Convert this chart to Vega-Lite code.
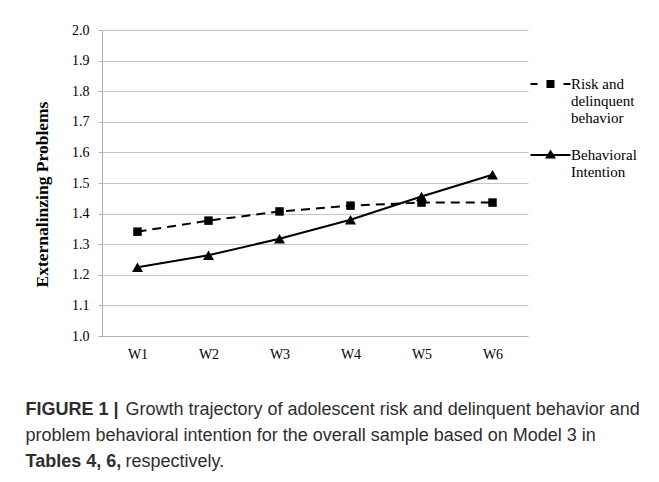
{
  "$schema": "https://vega.github.io/schema/vega-lite/v6.json",
  "width": 426,
  "height": 306,
  "autosize": {"type": "none"},
  "padding": {"left": 102, "top": 30, "right": 131, "bottom": 146},
  "background": "white",
  "config": {
    "view": {"stroke": null},
    "axisY": {
      "grid": true,
      "gridColor": "#c6c6c6",
      "gridWidth": 1,
      "domainColor": "#b0b0b0",
      "tickColor": "#b0b0b0",
      "tickSize": 4,
      "labelPadding": 9,
      "labelFont": "Liberation Serif",
      "labelFontSize": 14,
      "labelColor": "#000000",
      "labelOverlap": false,
      "values": [1, 1.1, 1.2, 1.3, 1.4, 1.5, 1.6, 1.7, 1.8, 1.9, 2],
      "format": ".1f",
      "titleFont": "Liberation Serif",
      "titleFontWeight": "bold",
      "titleFontSize": 17.5,
      "titleColor": "#000000",
      "titleAngle": 270,
      "titleAlign": "center",
      "titleBaseline": "alphabetic",
      "titleX": -55,
      "titleY": 164
    },
    "legend": {
      "orient": "none",
      "title": null,
      "padding": 0,
      "symbolSize": 100,
      "symbolFillColor": "#000000",
      "symbolStrokeWidth": 0,
      "labelFont": "Liberation Serif",
      "labelFontSize": 15,
      "labelColor": "#000000",
      "labelOffset": 13,
      "labelBaseline": "alphabetic",
      "labelLimit": 300
    }
  },
  "data": {
    "values": [
      {"wave": "W1", "s": "Risk and delinquent behavior", "v": 1.341},
      {"wave": "W2", "s": "Risk and delinquent behavior", "v": 1.377},
      {"wave": "W3", "s": "Risk and delinquent behavior", "v": 1.407},
      {"wave": "W4", "s": "Risk and delinquent behavior", "v": 1.426},
      {"wave": "W5", "s": "Risk and delinquent behavior", "v": 1.436},
      {"wave": "W6", "s": "Risk and delinquent behavior", "v": 1.436},
      {"wave": "W1", "s": "Behavioral Intention", "v": 1.225},
      {"wave": "W2", "s": "Behavioral Intention", "v": 1.264},
      {"wave": "W3", "s": "Behavioral Intention", "v": 1.318},
      {"wave": "W4", "s": "Behavioral Intention", "v": 1.380},
      {"wave": "W5", "s": "Behavioral Intention", "v": 1.456},
      {"wave": "W6", "s": "Behavioral Intention", "v": 1.527}
    ]
  },
  "resolve": {
    "axis": {"x": "independent"},
    "scale": {"opacity": "independent"},
    "legend": {"opacity": "independent"}
  },
  "layer": [
    {
      "transform": [{"filter": "datum.s === 'Risk and delinquent behavior'"}],
      "mark": {"type": "line", "color": "#000000"},
      "encoding": {
        "x": {
          "field": "wave",
          "type": "ordinal",
          "axis": {
            "orient": "bottom",
            "labelAngle": 0,
            "ticks": false,
            "grid": false,
            "domainColor": "#b0b0b0",
            "labelFont": "Liberation Serif",
            "labelFontSize": 14,
            "labelColor": "#000000",
            "labelPadding": 11,
            "title": [
              "\u200b\u00a0\u00a0\u00a0\u00a0\u00a0\u00a0\u00a0\u00a0\u00a0\u00a0\u00a0\u00a0\u00a0\u00a0\u00a0\u00a0\u00a0\u00a0\u00a0 Growth trajectory of adolescent risk and delinquent behavior and",
              "problem behavioral intention for the overall sample based on Model 3 in",
              "\u200b\u00a0\u00a0\u00a0\u00a0\u00a0\u00a0\u00a0\u00a0\u00a0\u00a0\u00a0\u00a0\u00a0\u00a0\u00a0\u00a0\u00a0\u00a0\u00a0 respectively."
            ],
            "titleX": -77,
            "titleY": 78,
            "titleAlign": "left",
            "titleAnchor": "start",
            "titleBaseline": "alphabetic",
            "titleFont": "Liberation Sans",
            "titleFontSize": 18,
            "titleFontWeight": "normal",
            "titleColor": "#2e2e2e",
            "titleLineHeight": 26,
            "titleLimit": 2000
          }
        },
        "y": {
          "field": "v",
          "type": "quantitative",
          "scale": {"domain": [1, 2]},
          "axis": {"title": "Externalinzing Problems"}
        },
        "strokeWidth": {"value": 2},
        "strokeDash": {"value": [9, 6]},
        "opacity": {
          "field": "s",
          "type": "nominal",
          "scale": {"domain": ["Risk and delinquent behavior"], "range": [1]},
          "legend": {
            "legendX": 441,
            "legendY": 51.5,
            "symbolType": "M-4,-1.2L-2.6,-1.2L-2.6,-0.8L-4,-0.8Z M-0.8,-1.8L0.8,-1.8L0.8,-0.2L-0.8,-0.2Z M2.6,-1.2L4,-1.2L4,-0.8L2.6,-0.8Z",
            "labelExpr": "['Risk and', 'delinquent', 'behavior']"
          }
        }
      }
    },
    {
      "transform": [{"filter": "datum.s === 'Behavioral Intention'"}],
      "mark": {"type": "line", "color": "#000000"},
      "encoding": {
        "x": {"field": "wave", "type": "ordinal", "axis": null},
        "y": {
          "field": "v",
          "type": "quantitative",
          "scale": {"domain": [1, 2]},
          "axis": {"title": "Externalinzing Problems"}
        },
        "strokeWidth": {"value": 2},
        "opacity": {
          "field": "s",
          "type": "nominal",
          "scale": {"domain": ["Behavioral Intention"], "range": [1]},
          "legend": {
            "legendX": 441,
            "legendY": 122.5,
            "symbolType": "M-4,-1.2L4,-1.2L4,-0.8L-4,-0.8Z M0,-2.1L1.1,-0.3L-1.1,-0.3Z",
            "labelExpr": "['Behavioral', 'Intention']"
          }
        }
      }
    },
    {
      "transform": [{"filter": "datum.s === 'Risk and delinquent behavior'"}],
      "mark": {"type": "point", "filled": true, "opacity": 1, "color": "#000000", "shape": "square", "size": 72},
      "encoding": {
        "x": {
          "field": "wave",
          "type": "ordinal",
          "axis": {
            "orient": "top",
            "labels": false,
            "ticks": false,
            "domain": false,
            "grid": false,
            "title": ["FIGURE 1 |", "\u200b", "Tables 4, 6,"],
            "titleX": -77,
            "titleY": 384,
            "titleAlign": "left",
            "titleAnchor": "start",
            "titleBaseline": "alphabetic",
            "titleFont": "Liberation Sans",
            "titleFontSize": 18,
            "titleFontWeight": "bold",
            "titleColor": "#2e2e2e",
            "titleLineHeight": 26,
            "titleLimit": 2000
          }
        },
        "y": {
          "field": "v",
          "type": "quantitative",
          "scale": {"domain": [1, 2]},
          "axis": {"title": "Externalinzing Problems"}
        }
      }
    },
    {
      "transform": [{"filter": "datum.s === 'Behavioral Intention'"}],
      "mark": {"type": "point", "filled": true, "opacity": 1, "color": "#000000", "shape": "triangle-up", "size": 121},
      "encoding": {
        "x": {"field": "wave", "type": "ordinal", "axis": null},
        "y": {
          "field": "v",
          "type": "quantitative",
          "scale": {"domain": [1, 2]},
          "axis": {"title": "Externalinzing Problems"}
        }
      }
    }
  ]
}
